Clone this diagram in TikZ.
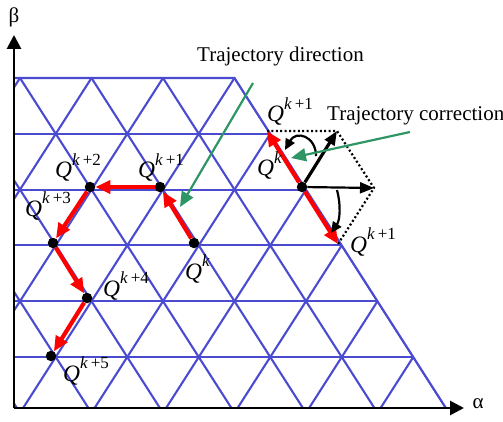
\documentclass[tikz,border=0pt]{standalone}
\usepackage{fontspec}
\setmainfont{Liberation Serif}
\usetikzlibrary{arrows.meta}
\definecolor{gridblue}{RGB}{75,75,210}
\definecolor{ptrgreen}{RGB}{45,150,100}
\newcommand{\QQ}[1]{{\fontsize{23.5}{25}\selectfont\textit{Q}\raisebox{12.5pt}{\fontsize{17}{19}\selectfont\textit{k}#1}}}
\begin{document}
\begin{tikzpicture}[x=1pt,y=-1pt,
  gridline/.style={gridblue,line width=2.1pt},
  axisline/.style={black,line width=2.8pt,-{Triangle[length=14pt,width=14pt]}},
  redarrow/.style={red,line width=4.2pt,-{Triangle[length=15pt,width=13pt]}},
  blackarrow/.style={black,line width=#1,-{Triangle[length=14pt,width=11pt]}},
  curvearrow/.style={black,line width=2.2pt,-{Triangle[length=11pt,width=10pt]}},
  dottedline/.style={black,line width=2.2pt,dash pattern=on 2pt off 2.4pt},
  greenarrow/.style={ptrgreen,line width=2.2pt,-{Triangle[length=15pt,width=13pt]}},
  dot/.style={circle,fill=black,inner sep=0pt,minimum size=10.5pt},
  lbl/.style={inner sep=0pt,anchor=base west},
  txt/.style={inner sep=0pt,anchor=base west,font=\fontsize{21}{23}\selectfont},
  greek/.style={inner sep=0pt,font=\fontsize{21}{23}\selectfont}]
\useasboundingbox (0,0) rectangle (503,422);
% grid
\begin{scope}
  \clip (14,77) -- (234.5,77) -- (446,408) -- (14,408) -- cycle;
  \foreach \r in {0,...,5} {
    \draw[gridline] (10,{78+55.8*\r}) -- (460,{78+55.8*\r});
  }
  \foreach \k in {-4,...,9} {
    \draw[gridline] ({20+71.5*\k},78) -- ++(211.4,330);
    \draw[gridline] ({20+71.5*\k},78) -- ++(-211.4,330);
  }
\end{scope}
\coordinate (gtl) at (14,78);
\coordinate (gtr) at (234.5,78);
\coordinate (gbr) at (445.9,408);
\draw[gridline] (gtl) -- (gtr) -- (gbr);
% axes
\coordinate (origin) at (14,408);
\coordinate (ytip) at (14,35);
\coordinate (xtip) at (464,408);
\draw[axisline] (origin) -- (ytip);
\draw[axisline] (origin) -- (xtip);
\node[greek] (beta) at (14,17) {β};
\node[greek] (alpha) at (478,404) {α};
% left trajectory
\node[dot] (Qa) at (194,243) {};
\node[dot] (Qb) at (160,187) {};
\node[dot] (Qc) at (90,187) {};
\node[dot] (Qd) at (53,243) {};
\node[dot] (Qe) at (87,298) {};
\node[dot] (Qf) at (51,356) {};
\draw[redarrow] (Qa) -- (Qb);
\draw[redarrow] (Qb) -- (Qc);
\draw[redarrow] (Qc) -- (Qd);
\draw[redarrow] (Qd) -- (Qe);
\draw[redarrow] (Qe) -- (Qf);
\node[lbl] (La) at (185,279) {\QQ{}};
\node[lbl] (Lb) at (138,178) {\QQ{\,+1}};
\node[lbl] (Lc) at (55,178) {\QQ{\,+2}};
\node[lbl] (Ld) at (25,216) {\QQ{\,+3}};
\node[lbl] (Le) at (103,296) {\QQ{\,+4}};
\node[lbl] (Lf) at (63,381) {\QQ{\,+5}};
% right correction
\coordinate (ul) at (267,131);
\coordinate (ur) at (337,131);
\coordinate (rr) at (374,188);
\coordinate (lr) at (338,244);
\draw[dottedline] (ul) -- (ur) -- (rr) -- (lr);
\node[dot] (Qr) at (302,187) {};
\draw[redarrow] (Qr) -- (ul);
\draw[redarrow] (Qr) -- (lr);
\draw[blackarrow=3.2pt] (Qr) -- (ur);
\draw[blackarrow=2.2pt] (Qr) -- (rr);
\coordinate (c1s) at (316,156);
\coordinate (c1e) at (285,150);
\draw[curvearrow] (c1s) .. controls (316,136) and (296,130) .. (c1e);
\coordinate (c2s) at (337,190);
\coordinate (c2e) at (331,233);
\draw[curvearrow] (c2s) .. controls (341,205) and (340,220) .. (c2e);
\node[lbl] (Lu) at (267,122) {\QQ{\,+1}};
\node[lbl] (Lr) at (257,176) {\QQ{}};
\node[lbl] (Ll) at (350,252) {\QQ{\,+1}};
% annotations
\node[txt] (tdir) at (197,62) {Trajectory direction};
\node[txt] (tcor) at (327,121) {Trajectory correction};
\coordinate (g1s) at (253,83);
\coordinate (g1e) at (180,207);
\draw[greenarrow] (g1s) -- (g1e);
\coordinate (g2s) at (410,132);
\coordinate (g2e) at (291,158);
\draw[greenarrow] (g2s) -- (g2e);
\end{tikzpicture}
\end{document}
